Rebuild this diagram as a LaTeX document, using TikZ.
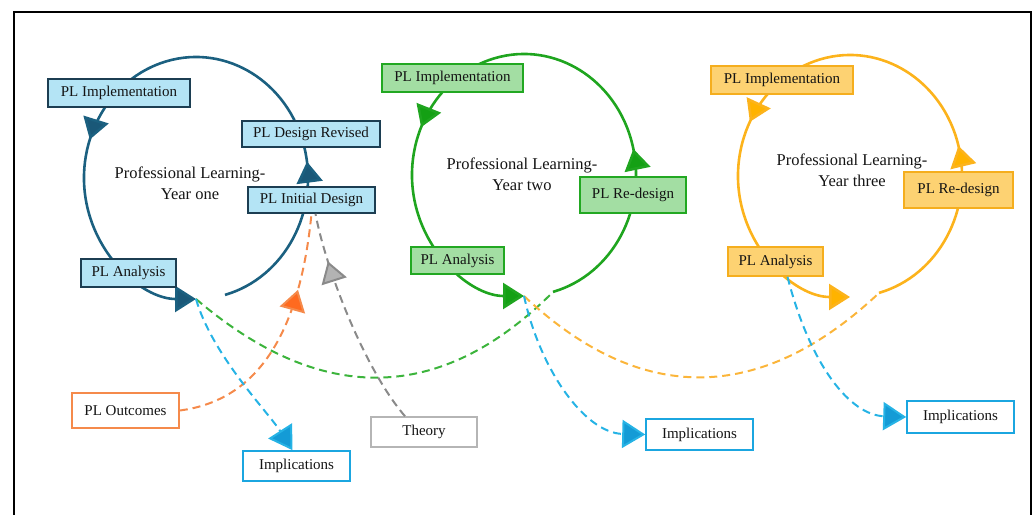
\documentclass[tikz,border=0pt]{standalone}
\usepackage{fontspec}
\setmainfont{Liberation Serif}
\usetikzlibrary{arrows.meta,decorations.markings}
\definecolor{txt}{HTML}{141414}
\definecolor{lA}{HTML}{1B6080}
\definecolor{aA}{HTML}{1A5878}
\definecolor{fA}{HTML}{B4E4F5}
\definecolor{dA}{HTML}{1C3E52}
\definecolor{lB}{HTML}{1FA51F}
\definecolor{aB}{HTML}{14A014}
\definecolor{fB}{HTML}{A3DEA3}
\definecolor{dB}{HTML}{22A822}
\definecolor{lC}{HTML}{FCB31C}
\definecolor{aC}{HTML}{FFB300}
\definecolor{fC}{HTML}{FDD272}
\definecolor{dC}{HTML}{F5AE1E}
\definecolor{lOr}{HTML}{F58A4B}
\definecolor{aOr}{HTML}{FF6A1F}
\definecolor{lGr}{HTML}{8A8A8A}
\definecolor{aGr}{HTML}{B3B3B3}
\definecolor{dGr}{HTML}{B5B5B5}
\definecolor{lBl}{HTML}{26B3E5}
\definecolor{aBl}{HTML}{149BD6}
\definecolor{dBl}{HTML}{1BA6E0}
\definecolor{lGd}{HTML}{3CB43C}
\definecolor{lYd}{HTML}{FBB53A}
\begin{document}
\begin{tikzpicture}[x=1pt,y=-1pt,
  box/.style={draw, line width=1.6pt, inner sep=0pt, text=txt,
    font=\fontsize{15}{17}\selectfont},
  bA/.style={box, fill=fA, draw=dA},
  bB/.style={box, fill=fB, draw=dB},
  bC/.style={box, fill=fC, draw=dC},
  bW/.style={box, fill=white},
  sz/.style 2 args={minimum width=#1pt, minimum height=#2pt},
  cyc/.style={line width=2.6pt},
  ylabel/.style={align=center, text=txt, font=\fontsize{16.5}{21}\selectfont},
  dline/.style={line width=2pt, dash pattern=on 8pt off 5pt},
  midtip/.style 2 args={postaction={decorate}, decoration={markings,
    mark=at position #1 with {\arrow{Triangle[length=21pt,width=26pt,fill=#2]}}}},
  cycmarks/.style n args={3}{postaction={decorate}, decoration={markings,
    mark=at position #1 with {\arrow{Triangle[length=21pt,width=26pt,fill=#3]}},
    mark=at position #2 with {\arrow{Triangle[length=21pt,width=26pt,fill=#3]}}}},
]
\useasboundingbox (0,0) rectangle (1036,514);
% frame
\draw[line width=2.5pt] (14,520) -- (14,12) -- (1031,12) -- (1031,520);

% cycle centres and ends
\coordinate (c1) at (196,178);
\coordinate (c2) at (524,175);
\coordinate (c3) at (850,176);
\coordinate (t1) at (196,299);
\coordinate (t2) at (524,296);
\coordinate (g2) at (553,292);
\coordinate (g3) at (879,293);

% cycles
\draw[cyc, draw=lA, cycmarks={0.242}{0.684}{aA}, -{Triangle[length=21pt,width=26pt,fill=aA]}]
  (c1) ++(75:112 and 121) arc[start angle=75, end angle=-270, x radius=112, y radius=121];
\draw[cyc, draw=lB, cycmarks={0.256}{0.670}{aB}, -{Triangle[length=21pt,width=26pt,fill=aB]}]
  (c2) ++(75:112 and 121) arc[start angle=75, end angle=-270, x radius=112, y radius=121];
\draw[cyc, draw=lC, cycmarks={0.262}{0.660}{aC}, -{Triangle[length=21pt,width=26pt,fill=aC]}]
  (c3) ++(75:112 and 121) arc[start angle=75, end angle=-270, x radius=112, y radius=121];

% year one
\node[bA, sz={142}{28}] (impl1) at (119,93) {PL Implementation};
\node[bA, sz={138}{26}] (rev1) at (311,134) {PL Design Revised};
\node[bA, sz={127}{26}] (init1) at (311.5,200) {PL Initial Design};
\node[bA, sz={95}{28}] (ana1) at (128.5,273) {PL Analysis};
\node[ylabel] (lab1) at (190,183.5) {Professional Learning-\\Year one};
% year two
\node[bB, sz={141}{28}] (impl2) at (452.5,78) {PL Implementation};
\node[bB, sz={106}{36}] (red2) at (633,195) {PL Re-design};
\node[bB, sz={93}{27}] (ana2) at (457.5,260.5) {PL Analysis};
\node[ylabel] (lab2) at (522,174) {Professional Learning-\\Year two};
% year three
\node[bC, sz={142}{28}] (impl3) at (782,80) {PL Implementation};
\node[bC, sz={109}{36}] (red3) at (958.5,190) {PL Re-design};
\node[bC, sz={95}{29}] (ana3) at (775.5,261.5) {PL Analysis};
\node[ylabel] (lab3) at (852,170) {Professional Learning-\\Year three};
% lower boxes
\node[bW, draw=lOr, sz={107}{35}] (out) at (125.5,410.5) {PL Outcomes};
\node[bW, draw=dBl, sz={107}{30}] (imp1) at (296.5,466) {Implications};
\node[bW, draw=dGr, sz={106}{30}] (theory) at (424,432) {Theory};
\node[bW, draw=dBl, sz={107}{31}] (imp2) at (699.5,434.5) {Implications};
\node[bW, draw=dBl, sz={107}{32}] (imp3) at (960.5,417) {Implications};

% dashed links between cycles
\draw[dline, draw=lGd] (t1) .. controls (320,405) and (440,405) .. (g2);
\draw[dline, draw=lYd] (t2) .. controls (640,405) and (760,405) .. (g3);

% inputs
\draw[dline, draw=lOr, midtip={0.70}{aOr}] (out.east) .. controls (260,400) and (300,330) .. (init1.south);
\draw[dline, draw=lGr, midtip={0.78}{aGr}] ([xshift=-19pt]theory.north) .. controls (365,370) and (326,270) .. ([xshift=4pt]init1.south);

% implications
\draw[dline, draw=lBl, -{Triangle[length=23pt,width=28pt,fill=aBl]}]
  (t1) .. controls (212,355) and (268,412) .. ([xshift=-4pt]imp1.north);
\draw[dline, draw=lBl, -{Triangle[length=23pt,width=28pt,fill=aBl]}]
  (t2) .. controls (540,370) and (585,433) .. (imp2.west);
\draw[dline, draw=lBl, -{Triangle[length=23pt,width=28pt,fill=aBl]}]
  ([xshift=12pt]ana3.south) .. controls (810,365) and (850,415) .. (imp3.west);
\end{tikzpicture}
\end{document}
